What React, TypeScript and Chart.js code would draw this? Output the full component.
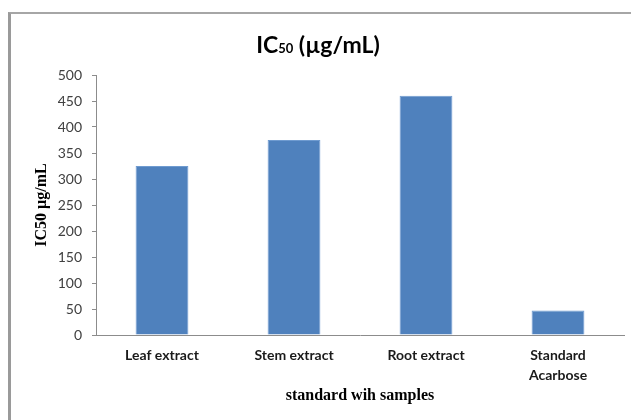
import React, { useEffect, useRef } from "react";
import { Chart, registerables } from "chart.js";

Chart.register(...registerables);

const categories: (string | string[])[] = ["Leaf extract", "Stem extract", "Root extract", ["Standard", "Acarbose"]];
const ic50Values = [325, 375, 460, 47];
const yTicks = [0, 50, 100, 150, 200, 250, 300, 350, 400, 450, 500];
const titleMain = "IC";
const titleSub = "50";
const titleRest = " (µg/mL)";
const yAxisTitle = "IC50 µg/mL";
const xAxisTitle = "standard wih samples";

const titlePlugin = {
  id: "mixedTitle",
  afterDraw(chart: any) {
    const ctx = chart.ctx;
    ctx.save();
    ctx.fillStyle = "#000";
    ctx.textBaseline = "alphabetic";
    const big = "bold 23px Lato";
    const small = "bold 13px Lato";
    ctx.font = big;
    const w1 = ctx.measureText(titleMain).width;
    const w3 = ctx.measureText(titleRest).width;
    ctx.font = small;
    const w2 = ctx.measureText(titleSub).width;
    const total = w1 + w2 + w3;
    let x = 318 - total / 2;
    const y = 53;
    ctx.font = big;
    ctx.fillText(titleMain, x, y);
    x += w1;
    ctx.font = small;
    ctx.fillText(titleSub, x, y);
    x += w2;
    ctx.font = big;
    ctx.fillText(titleRest, x, y);
    ctx.restore();
  },
};

export default function App() {
  const ref = useRef<HTMLCanvasElement>(null);
  useEffect(() => {
    if (!ref.current) return;
    const chart = new Chart(ref.current, {
      type: "bar",
      data: {
        labels: categories,
        datasets: [
          {
            data: ic50Values,
            backgroundColor: "#4f81bd",
            borderColor: "#6f9bd0",
            borderWidth: 1,
            barPercentage: 0.4,
            categoryPercentage: 1,
          },
        ],
      },
      options: {
        animation: false,
        responsive: false,
        maintainAspectRatio: false,
        layout: { padding: { top: 75, right: 7, left: 0, bottom: 0 } },
        plugins: { legend: { display: false }, title: { display: false }, tooltip: { enabled: false } },
        scales: {
          x: {
            grid: { display: false, drawTicks: false },
            border: { display: true, color: "#8c8c8c", width: 1 },
            ticks: {
              color: "#1a1a1a",
              font: { family: "Lato", size: 14, weight: "bold", lineHeight: 1.45 },
              padding: 10,
              maxRotation: 0,
            },
            title: {
              display: true,
              text: xAxisTitle,
              color: "#000",
              font: { family: "Liberation Serif", size: 16, weight: "bold" },
              padding: { top: 0, bottom: 15 },
            },
            afterFit(scale: any) {
              scale.height = 85;
            },
          },
          y: {
            min: 0,
            max: 500,
            afterBuildTicks(scale: any) {
              scale.ticks = yTicks.map((v) => ({ value: v }));
            },
            grid: {
              drawOnChartArea: false,
              drawTicks: true,
              tickLength: 4,
              color: "#8c8c8c",
            },
            border: { display: true, color: "#8c8c8c", width: 1 },
            ticks: {
              color: "#404040",
              font: { family: "Lato", size: 14 },
              padding: 10,
            },
            title: {
              display: true,
              text: yAxisTitle,
              color: "#000",
              font: { family: "Liberation Serif", size: 16, weight: "bold" },
              padding: { top: 32, bottom: 0 },
            },
            afterFit(scale: any) {
              scale.width = 96;
            },
          },
        },
      },
      plugins: [titlePlugin],
    });
    return () => chart.destroy();
  }, []);

  return (
    <div style={{ position: "fixed", left: 0, top: 0, width: 631, height: 420, overflow: "hidden", background: "#fff" }}>
      <canvas ref={ref} width={631} height={420} style={{ position: "absolute", left: 0, top: 0, width: 631, height: 420 }} />
      <div
        style={{
          position: "absolute",
          left: 8,
          top: 12,
          width: 700,
          height: 500,
          borderLeft: "3px solid #9a9a9a",
          borderTop: "2px solid #a6a6a6",
          pointerEvents: "none",
        }}
      />
    </div>
  );
}
